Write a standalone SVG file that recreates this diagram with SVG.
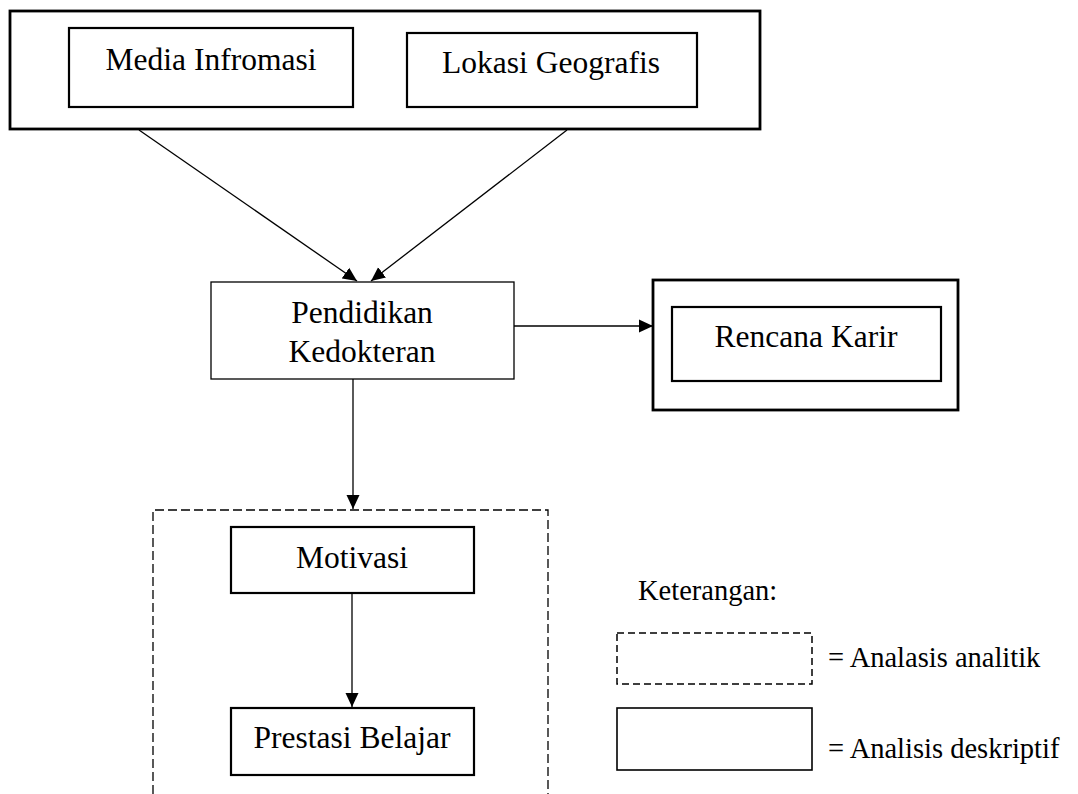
<svg xmlns="http://www.w3.org/2000/svg" width="1078" height="794" viewBox="0 0 1078 794">
<style>
text{font-family:'Liberation Serif','Times New Roman',serif;fill:#000}
.t{font-size:31.5px;text-anchor:middle}
.l{font-size:28.5px}
.box{fill:#fff;stroke:#000;stroke-width:2.2}
.thick{fill:#fff;stroke:#000;stroke-width:2.8}
.thin{fill:#fff;stroke:#000;stroke-width:1.3}
.dash{fill:none;stroke:#000;stroke-width:1.3;stroke-dasharray:9 4}
.ldash{fill:none;stroke:#000;stroke-width:1.5;stroke-dasharray:7 4}
.lsolid{fill:none;stroke:#000;stroke-width:1.6}
.c{fill:none;stroke:#000;stroke-width:1.3}
</style>
<defs>
<marker id="ahb" viewBox="0 0 14 14" refX="14" refY="7" markerWidth="14" markerHeight="14" markerUnits="userSpaceOnUse" orient="auto">
<path d="M0,0.5 L14,7 L0,13.5 z" fill="#000"/>
</marker>
</defs>
<rect width="1078" height="794" fill="#fff"/>

<g id="sumber">
<rect class="thick" x="10" y="11" width="750" height="118"/>
</g>
<g id="media">
<rect class="box" x="69" y="28" width="284" height="79"/>
<text class="t" x="211" y="70">Media Infromasi</text>
</g>
<g id="lokasi">
<rect class="box" x="407" y="33" width="290" height="74"/>
<text class="t" x="551" y="73">Lokasi Geografis</text>
</g>

<g id="pendidikan">
<rect class="thin" x="211" y="282" width="303" height="97"/>
<text class="t" x="362" y="323">Pendidikan</text>
<text class="t" x="362" y="362">Kedokteran</text>
</g>

<g id="rencana">
<rect class="thick" x="653" y="280" width="305" height="130"/>
<rect class="box" x="672" y="307" width="269" height="74"/>
<text class="t" x="806" y="347">Rencana Karir</text>
</g>

<g id="analitik">
<path class="dash" d="M153,794 V510 H548 V794"/>
</g>
<g id="motivasi">
<rect class="box" x="231" y="527" width="243" height="66"/>
<text class="t" x="352" y="568">Motivasi</text>
</g>
<g id="prestasi">
<rect class="box" x="231" y="708" width="243" height="67"/>
<text class="t" x="352" y="748">Prestasi Belajar</text>
</g>

<g id="connectors">
<line class="c" x1="139" y1="130" x2="357" y2="281" marker-end="url(#ahb)"/>
<line class="c" x1="567" y1="130" x2="371" y2="281" marker-end="url(#ahb)"/>
<line class="c" x1="514" y1="326" x2="653" y2="326" marker-end="url(#ahb)"/>
<line class="c" x1="353" y1="379" x2="353" y2="509" marker-end="url(#ahb)"/>
<line class="c" x1="352" y1="593" x2="352" y2="707" marker-end="url(#ahb)"/>
</g>

<g id="legend">
<text class="l" x="638" y="600">Keterangan:</text>
<rect class="ldash" x="617" y="633" width="195" height="51"/>
<text class="l" x="828" y="667">= Analasis analitik</text>
<rect class="lsolid" x="617" y="708" width="195" height="62"/>
<text class="l" x="828" y="758">= Analisis deskriptif</text>
</g>
</svg>
